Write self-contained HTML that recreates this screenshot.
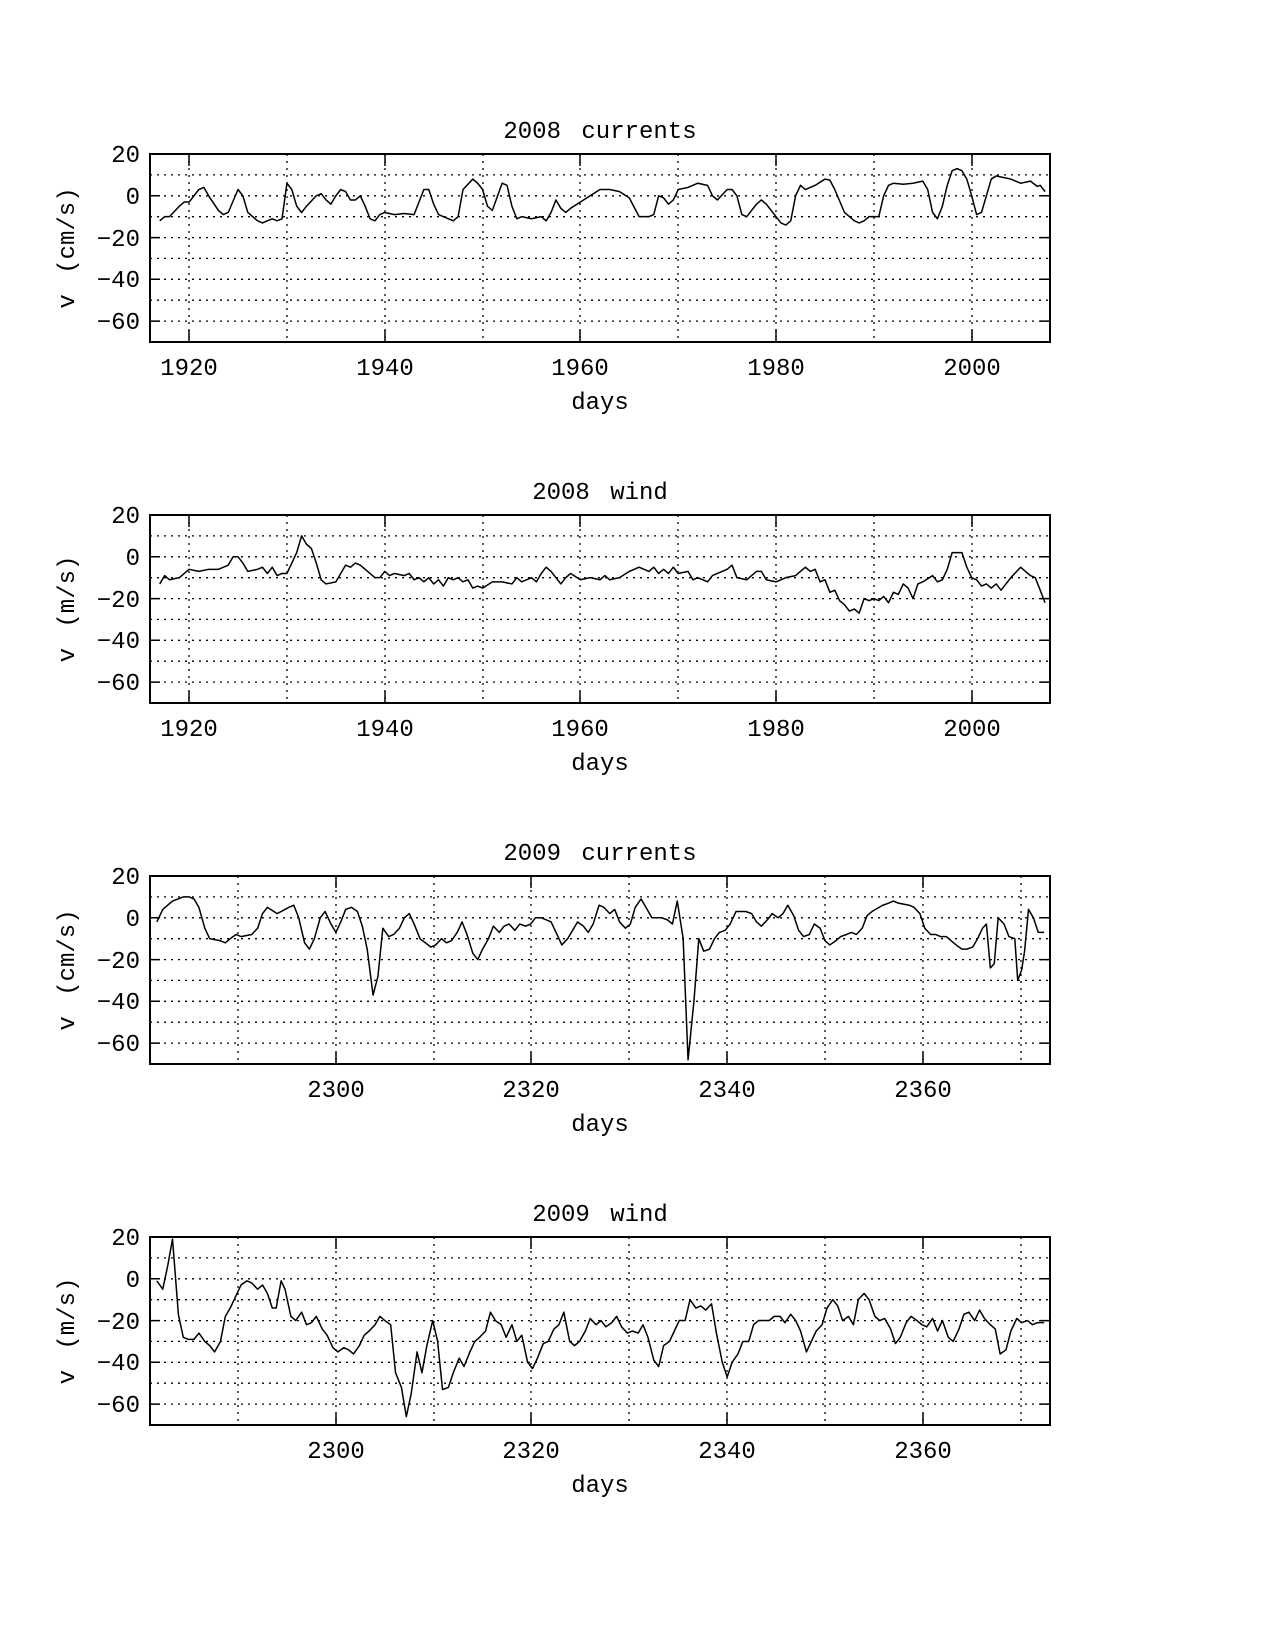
<!DOCTYPE html>
<html><head><meta charset="utf-8"><style>
html,body{margin:0;padding:0;background:#fff}
svg{display:block}
text{font-family:"Liberation Mono",monospace;fill:#000}
.tk{font-size:24px}
.wt{word-spacing:6px}
.g{stroke:#000;stroke-width:1.3;stroke-dasharray:2 5;fill:none}
.ax{stroke:#000;stroke-width:2;fill:none}
.d{fill:none;stroke:#000;stroke-width:1.5;vector-effect:non-scaling-stroke;stroke-linejoin:round}
</style></head><body>
<svg width="1275" height="1650" viewBox="0 0 1275 1650" xmlns="http://www.w3.org/2000/svg">
<defs>
<g id="hg">
<path class="g" d="M150 20.9H1050M150 41.8H1050M150 62.7H1050M150 83.6H1050M150 104.4H1050M150 125.3H1050M150 146.2H1050M150 167.1H1050"/>
<g class="tk" text-anchor="end">
<text x="140" y="8">20</text><text x="140" y="50">0</text><text x="140" y="92">−20</text><text x="140" y="133">−40</text><text x="140" y="175">−60</text>
</g>
<path stroke="#000" stroke-width="1.5" d="M150 41.8h10M150 83.6h10M150 125.3h10M150 167.1h10M1050 41.8h-10M1050 83.6h-10M1050 125.3h-10M1050 167.1h-10"/>
<text class="tk" x="600" y="255" text-anchor="middle">days</text>
</g>
<g id="v1">
<path class="g" d="M189 0V188M287 0V188M385 0V188M483 0V188M580 0V188M678 0V188M776 0V188M874 0V188M972 0V188"/>
<path stroke="#000" stroke-width="1.5" d="M189 188v-12M385 188v-12M580 188v-12M776 188v-12M972 188v-12M189 0v12M385 0v12M580 0v12M776 0v12M972 0v12"/>
<g class="tk" text-anchor="middle"><text x="189" y="221">1920</text><text x="385" y="221">1940</text><text x="580" y="221">1960</text><text x="776" y="221">1980</text><text x="972" y="221">2000</text></g>
</g>
<g id="v2">
<path class="g" d="M238 0V188M336 0V188M434 0V188M531 0V188M629 0V188M727 0V188M825 0V188M923 0V188M1021 0V188"/>
<path stroke="#000" stroke-width="1.5" d="M336 188v-12M531 188v-12M727 188v-12M923 188v-12M336 0v12M531 0v12M727 0v12M923 0v12"/>
<g class="tk" text-anchor="middle"><text x="336" y="221">2300</text><text x="531" y="221">2320</text><text x="727" y="221">2340</text><text x="923" y="221">2360</text></g>
</g>
</defs>

<!-- Panel 1 -->
<g transform="translate(0,154)">
<use href="#hg"/><use href="#v1"/>
<text class="tk wt" x="600" y="-16" text-anchor="middle">2008 currents</text>
<text class="tk wt" transform="translate(74,94) rotate(-90)" text-anchor="middle">v (cm/s)</text>
<g transform="translate(-18593.5,41.78) scale(9.7826,-2.0889)">
<polyline class="d" points="1917,-12 1917.5,-10 1918,-10 1919,-5 1919.5,-3 1920,-3 1921,3 1921.5,4 1922,0 1923,-7 1923.5,-9 1924,-8 1925,3 1925.5,0 1926,-8 1927,-12 1927.5,-13 1928,-12 1928.5,-11 1929,-12 1929.5,-11 1930,6 1930.5,3 1931,-5 1931.5,-8 1932,-5 1933,0 1933.5,1 1934,-2 1934.5,-4 1935,0 1935.5,3 1936,2 1936.5,-2 1937,-2 1937.5,0 1938,-5 1938.5,-11 1939,-12 1939.5,-9 1940,-8 1941,-9 1942,-8.5 1943,-9 1944,3 1944.5,3 1945,-4 1945.5,-9 1946,-10 1947,-12 1947.5,-10 1948,3 1949,8 1949.5,6 1950,3 1950.5,-5 1951,-7 1952,6 1952.5,5 1953,-5 1953.5,-11 1954,-10 1955,-11 1956,-10 1956.5,-12 1957,-8 1957.5,-2 1958,-6 1958.5,-8 1959,-6 1960,-3 1961,0 1962,3 1963,3 1964,2 1965,-1 1966,-10 1967,-10 1967.5,-9 1968,0 1968.5,-1 1969,-4 1969.5,-2 1970,3 1971,4 1972,6 1973,5 1973.5,0 1974,-2 1975,3 1975.5,3 1976,0 1976.5,-9 1977,-10 1978,-4 1978.5,-2 1979,-4 1980,-10 1980.5,-13 1981,-14 1981.5,-12 1982,0 1982.5,5 1983,3 1984,5 1985,8 1985.5,7.5 1986,3 1987,-8 1988,-12 1988.5,-13 1989,-12 1989.5,-10 1990,-10 1990.5,-10 1991,0 1991.5,5 1992,6 1993,5.5 1994,6 1995,7 1995.5,3 1996,-8 1996.5,-11 1997,-5 1997.5,5 1998,12 1998.5,13 1999,12 1999.5,8 2000,0 2000.5,-9 2001,-8 2001.5,0 2002,8 2002.5,9.5 2003,9 2004,8 2005,6 2006,7 2006.7,4.5 2007,5 2007.5,2"/>
</g>
<rect class="ax" x="150" y="0" width="900" height="188"/>
</g>

<!-- Panel 2 -->
<g transform="translate(0,515)">
<use href="#hg"/><use href="#v1"/>
<text class="tk wt" x="600" y="-16" text-anchor="middle">2008 wind</text>
<text class="tk wt" transform="translate(74,94) rotate(-90)" text-anchor="middle">v (m/s)</text>
<g transform="translate(-18593.5,41.78) scale(9.7826,-2.0889)">
<polyline class="d" points="1917,-13 1917.5,-9 1918,-11 1919,-10 1920,-6 1921,-7 1922,-6 1923,-6 1924,-4 1924.5,0 1925,0 1925.5,-3 1926,-7 1927,-6 1927.5,-5 1928,-8 1928.5,-5 1929,-9 1929.5,-8 1930,-8 1930.5,-3 1931,2 1931.5,10 1932,6 1932.5,4 1933,-3 1933.5,-11 1934,-13 1935,-12 1935.5,-8 1936,-4 1936.5,-5 1937,-3 1937.5,-4 1938,-6 1939,-10 1939.5,-10 1940,-7 1940.5,-9 1941,-8 1942,-9 1942.5,-8 1943,-11 1943.5,-10 1944,-12 1944.5,-10 1945,-13 1945.5,-11 1946,-14 1946.5,-10 1947,-11 1947.5,-10 1948,-12 1948.5,-11 1949,-15 1949.5,-14 1950,-15 1951,-12 1952,-12 1953,-13 1953.5,-10 1954,-12 1955,-10 1955.5,-12 1956,-8 1956.5,-5 1957,-7 1957.5,-10 1958,-13 1958.5,-10 1959,-8 1960,-11 1961,-10 1962,-11 1962.5,-9 1963,-11 1964,-10 1965,-7 1966,-5 1967,-7 1967.5,-5 1968,-8 1968.5,-6 1969,-8 1969.5,-5 1970,-8 1971,-7 1971.5,-11 1972,-10 1973,-12 1973.5,-9 1974,-8 1975,-6 1975.5,-4 1976,-10 1977,-11 1978,-7 1978.5,-7 1979,-11 1980,-12 1980.5,-11 1981,-10 1982,-9 1983,-5 1983.5,-7 1984,-6 1984.5,-12 1985,-11 1985.5,-17 1986,-16 1986.5,-21 1987,-23 1987.5,-26 1988,-25 1988.5,-27 1989,-20 1989.5,-21 1990,-20 1990.5,-21 1991,-19 1991.5,-22 1992,-17 1992.5,-18 1993,-13 1993.5,-15 1994,-20 1994.5,-13 1995,-12 1996,-9 1996.5,-12 1997,-11 1997.5,-6 1998,2 1999,2 1999.5,-5 2000,-10 2000.5,-11 2001,-14 2001.5,-13 2002,-15 2002.5,-13 2003,-16 2004,-10 2005,-5 2005.5,-7 2006,-9 2006.5,-10 2007,-16 2007.5,-22"/>
</g>
<rect class="ax" x="150" y="0" width="900" height="188"/>
</g>

<!-- Panel 3 -->
<g transform="translate(0,876)">
<use href="#hg"/><use href="#v2"/>
<text class="tk wt" x="600" y="-16" text-anchor="middle">2009 currents</text>
<text class="tk wt" transform="translate(74,94) rotate(-90)" text-anchor="middle">v (cm/s)</text>
<g transform="translate(-22164.1,41.78) scale(9.7826,-2.0889)">
<polyline class="d" points="2281.7,-2 2282.3,4 2283.3,8 2284.4,10 2285,10 2285.5,9 2286,5 2286.6,-5 2287.1,-10 2288.2,-11 2288.7,-12 2289.2,-10 2289.8,-8 2290.3,-9 2291.4,-8 2292,-5 2292.5,2 2293,5 2294,2 2295.2,5 2295.7,6 2296.2,0 2296.8,-12 2297.3,-15 2297.8,-10 2298.4,0 2298.9,3 2299.5,-3 2300,-7 2300.5,-2 2301,4 2301.6,5 2302.2,3 2302.7,-4 2303.2,-15 2303.8,-37 2304.3,-28 2304.8,-5 2305.4,-9 2305.9,-8 2306.5,-5 2307,0 2307.5,2 2308,-3 2308.6,-10 2309.7,-14 2310.2,-13 2310.8,-10 2311.3,-12 2311.8,-11 2312.4,-7 2312.9,-2 2313.4,-8 2314,-17 2314.5,-20 2315,-15 2315.6,-10 2316.1,-4 2316.7,-7 2317.2,-4 2317.7,-3 2318.3,-6 2318.8,-3 2319.4,-4 2319.9,-3 2320.4,0 2321,0 2321.5,-1 2322,-2 2322.6,-8 2323.1,-13 2323.7,-10 2324.2,-6 2324.7,-2 2325.3,-4 2325.8,-7 2326.3,-3 2326.9,6 2327.4,5 2328,2 2328.5,4 2329,-2 2329.6,-5 2330.1,-3 2330.6,5 2331.2,9 2331.7,5 2332.3,0 2333.3,0 2333.9,-1 2334.4,-3 2334.9,8 2335.5,-10 2336,-68 2336.6,-40 2337.1,-10 2337.6,-16 2338.2,-15 2338.7,-10 2339.2,-7 2339.8,-6 2340.3,-3 2340.9,3 2341.9,3 2342.5,2 2343,-2 2343.5,-4 2344.1,-1 2344.6,2 2345.2,0 2345.7,2 2346.2,6 2346.8,1 2347.3,-6 2347.8,-9 2348.4,-8 2348.9,-3 2349.5,-5 2350,-11 2350.5,-13 2351.1,-11 2351.6,-9 2352.2,-8 2352.7,-7 2353.2,-8 2353.8,-5 2354.3,1 2354.8,3 2355.9,6 2356.5,7 2357,8 2357.5,7 2358.6,6 2359.1,5 2359.7,2 2360.2,-5 2360.8,-8 2361.3,-8 2361.8,-9 2362.4,-9 2362.9,-11 2363.4,-13 2364,-15 2364.5,-15 2365.1,-14 2365.6,-10 2366.1,-5 2366.5,-3 2366.9,-24 2367.3,-22 2367.7,0 2368.3,-3 2368.8,-9 2369.4,-10 2369.7,-30 2370.1,-25 2370.4,-16 2370.8,4 2371.3,0 2371.8,-7 2372.4,-7"/>
</g>
<rect class="ax" x="150" y="0" width="900" height="188"/>
</g>

<!-- Panel 4 -->
<g transform="translate(0,1237)">
<use href="#hg"/><use href="#v2"/>
<text class="tk wt" x="600" y="-16" text-anchor="middle">2009 wind</text>
<text class="tk wt" transform="translate(74,94) rotate(-90)" text-anchor="middle">v (m/s)</text>
<g transform="translate(-22164.1,41.78) scale(9.7826,-2.0889)">
<polyline class="d" points="2281.7,-1 2282.3,-5 2282.8,6 2283.3,19 2283.9,-17 2284.4,-28 2284.9,-29 2285.5,-29 2286,-26 2286.6,-30 2287.1,-32 2287.6,-35 2288.2,-30 2288.7,-18 2289.2,-14 2289.8,-8 2290.3,-3 2290.9,-1 2291.4,-2 2292,-5 2292.5,-3 2293,-7 2293.5,-14 2293.9,-14 2294.4,-1 2294.8,-5 2295.4,-18 2295.9,-20 2296.5,-16 2297,-22 2297.5,-21 2298,-18 2298.6,-24 2299.1,-27 2299.7,-33 2300.2,-35 2300.8,-33 2301.3,-34 2301.8,-36 2302.4,-32 2302.9,-27 2303.4,-25 2304,-22 2304.5,-18 2305,-20 2305.6,-22 2306.1,-45 2306.7,-52 2307.2,-66 2307.7,-55 2308.3,-35 2308.8,-45 2309.3,-32 2309.9,-20 2310.4,-30 2310.9,-53 2311.5,-52 2312,-45 2312.6,-38 2313.1,-42 2313.7,-35 2314.2,-30 2314.7,-28 2315.3,-25 2315.8,-16 2316.3,-20 2316.9,-22 2317.4,-28 2318,-22 2318.5,-30 2319,-27 2319.6,-40 2320.1,-43 2320.6,-38 2321.2,-31 2321.7,-30 2322.3,-24 2322.8,-22 2323.3,-16 2323.9,-30 2324.4,-32 2324.9,-30 2325.5,-25 2326,-19 2326.6,-22 2327.1,-20 2327.6,-23 2328.2,-21 2328.7,-18 2329.2,-23 2329.8,-26 2330.3,-25 2330.9,-26 2331.4,-22 2331.9,-28 2332.5,-39 2333,-42 2333.5,-32 2334.1,-30 2334.6,-25 2335.1,-20 2335.7,-20 2336.2,-10 2336.8,-14 2337.3,-13 2337.8,-15 2338.4,-12 2338.9,-26 2339.5,-40 2340,-47 2340.5,-40 2341.1,-36 2341.6,-30 2342.2,-30 2342.7,-22 2343.2,-20 2343.8,-20 2344.3,-20 2344.8,-18 2345.4,-18 2345.9,-21 2346.5,-17 2347,-20 2347.5,-25 2348.1,-35 2348.6,-30 2349.1,-25 2349.7,-22 2350.2,-14 2350.8,-10 2351.3,-13 2351.8,-20 2352.4,-18 2352.9,-22 2353.4,-10 2354,-7 2354.5,-10 2355.1,-18 2355.6,-20 2356.1,-19 2356.7,-24 2357.2,-31 2357.7,-28 2358.3,-21 2358.8,-18 2359.4,-20 2359.9,-22 2360.4,-23 2361,-19 2361.5,-25 2362,-20 2362.6,-28 2363.1,-30 2363.7,-24 2364.2,-17 2364.7,-16 2365.3,-20 2365.8,-15 2366.3,-19 2366.9,-22 2367.4,-24 2367.9,-36 2368.5,-34 2369,-25 2369.6,-19 2370.1,-21 2370.7,-20 2371.2,-22 2371.7,-21 2372.4,-21"/>
</g>
<rect class="ax" x="150" y="0" width="900" height="188"/>
</g>
</svg>
</body></html>
